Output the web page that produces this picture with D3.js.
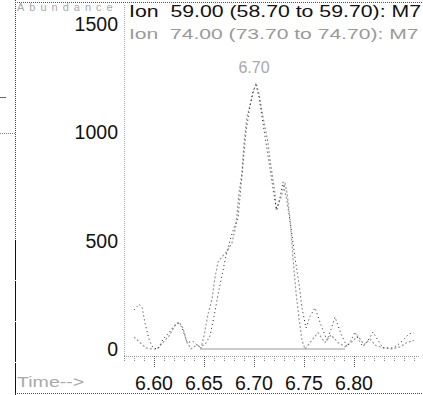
<!DOCTYPE html>
<html lang="en">
<head>
    <meta charset="UTF-8">
    <title>Ion chromatogram</title>
    <script src="https://d3js.org/d3.v7.min.js"></script>
    <style>
        body {
            margin: 0;
            background: #fff;
            font-family: "Liberation Sans", Arial, sans-serif;
        }
        svg {
            display: block;
        }
        text {
            white-space: pre;
        }
        .tick-label {
            font-size: 19.5px;
            fill: #111;
        }
        .faint {
            fill: #a9a9a9;
        }
    </style>
</head>
<body>
    <svg id="chart"></svg>

    <script>
        // Data (time in min, abundance)
        const ion59 = [
            [6.580, 180], [6.585, 205], [6.588, 195], [6.591, 120], [6.595, 45], [6.599, 5],
            [6.604, 0], [6.609, 45], [6.614, 70], [6.619, 100], [6.624, 120], [6.628, 100],
            [6.633, 30], [6.639, 35], [6.645, 10], [6.651, 20], [6.656, 60], [6.660, 150],
            [6.664, 250], [6.668, 340], [6.672, 430], [6.676, 500], [6.680, 560], [6.684, 600],
            [6.688, 800], [6.692, 1000], [6.696, 1120], [6.699, 1190], [6.702, 1215], [6.705, 1160],
            [6.709, 1040], [6.713, 920], [6.717, 800], [6.721, 680], [6.723, 640], [6.726, 700],
            [6.729, 770], [6.733, 680], [6.737, 560], [6.741, 420], [6.745, 300], [6.748, 190],
            [6.752, 97], [6.756, 150], [6.761, 190], [6.767, 110], [6.773, 40], [6.777, 90],
            [6.781, 147], [6.787, 70], [6.793, 10], [6.797, 40], [6.801, 78], [6.805, 40],
            [6.809, 10], [6.814, 40], [6.819, 78], [6.824, 40], [6.829, 5], [6.839, 5],
            [6.844, 20], [6.849, 40], [6.855, 70], [6.860, 74]
        ];

        const ion74 = [
            [6.580, 55], [6.586, 30], [6.592, 5], [6.598, 0], [6.603, 0], [6.609, 30],
            [6.615, 60], [6.621, 110], [6.625, 125], [6.629, 95], [6.633, 30], [6.637, 0],
            [6.643, 20], [6.647, 5], [6.650, 60], [6.654, 160], [6.658, 230], [6.661, 330],
            [6.664, 400], [6.669, 430], [6.673, 450], [6.678, 490], [6.682, 570], [6.685, 720],
            [6.688, 810], [6.690, 950], [6.693, 1070], [6.698, 1160], [6.702, 1226], [6.705, 1175],
            [6.709, 1070], [6.714, 950], [6.716, 870], [6.719, 780], [6.721, 720], [6.722, 640],
            [6.727, 700], [6.731, 765], [6.733, 720], [6.736, 600], [6.739, 420], [6.742, 260],
            [6.745, 140], [6.748, 40], [6.751, 0], [6.756, 30], [6.764, 75], [6.771, 30],
            [6.777, 65], [6.784, 30], [6.791, 10], [6.797, 30], [6.804, 60], [6.810, 20],
            [6.816, 45], [6.822, 15], [6.830, 5], [6.838, 0], [6.846, 10], [6.853, 30],
            [6.860, 40]
        ];

        // integration baseline under the peak
        const baseline = [[6.646, 0], [6.791, 0]];

        const xTicks = [6.60, 6.65, 6.70, 6.75, 6.80];
        const yTicks = [0, 500, 1000, 1500];
        const legend = [
            { text: "Ion  59.00 (58.70 to 59.70): M7", color: "#111" },
            { text: "Ion  74.00 (73.70 to 74.70): M7", color: "#9a9a9a" }
        ];
        const peakTime = 6.70;
        const peakLabel = "6.70";

        const W = 423, H = 395;
        const axisX = 124, zeroY = 349, axisY = 356;

        const svg = d3.select("#chart")
                      .attr("width", W)
                      .attr("height", H);

        // Scales
        const x = d3.scaleLinear().domain([6.570, 6.866]).range([axisX, 420]);
        const y = d3.scaleLinear().domain([0, 1500]).range([zeroY, 23.5]);

        // Frame (scan edges)
        svg.append("line").attr("x1", 15.5).attr("x2", 15.5).attr("y1", 0).attr("y2", 240)
           .attr("stroke", "#444").attr("stroke-dasharray", "1,1");
        svg.append("line").attr("x1", 15.5).attr("x2", 15.5).attr("y1", 240).attr("y2", H)
           .attr("stroke", "#111").attr("stroke-dasharray", "40,1");
        svg.append("line").attr("x1", 15).attr("x2", W).attr("y1", 2.5).attr("y2", 2.5)
           .attr("stroke", "#555").attr("stroke-dasharray", "1,1");
        svg.append("line").attr("x1", 15).attr("x2", W).attr("y1", 393.5).attr("y2", 393.5)
           .attr("stroke", "#555").attr("stroke-dasharray", "1,1");
        svg.append("line").attr("x1", 0).attr("x2", 15).attr("y1", 133.5).attr("y2", 133.5)
           .attr("stroke", "#888").attr("stroke-dasharray", "1,1");
        svg.append("line").attr("x1", 0).attr("x2", 6).attr("y1", 97.5).attr("y2", 97.5)
           .attr("stroke", "#666");

        // Y axis: dotted line
        svg.append("line").attr("x1", axisX + 0.5).attr("x2", axisX + 0.5)
           .attr("y1", 5).attr("y2", axisY)
           .attr("stroke", "#aaa").attr("stroke-dasharray", "1,1");

        svg.selectAll(".ylab")
           .data(yTicks)
           .enter()
           .append("text")
           .attr("class", "tick-label")
           .attr("x", 118)
           .attr("y", d => y(d) + 7)
           .attr("text-anchor", "end")
           .text(d => d);

        // X axis: dotted line, minor and major ticks
        svg.append("line").attr("x1", axisX).attr("x2", 420)
           .attr("y1", axisY + 0.5).attr("y2", axisY + 0.5)
           .attr("stroke", "#999").attr("stroke-dasharray", "1,1");

        const minor = d3.range(6.57, 6.866, 0.01);
        svg.selectAll(".minor")
           .data(minor)
           .enter()
           .append("line")
           .attr("x1", d => Math.round(x(d)) + 0.5)
           .attr("x2", d => Math.round(x(d)) + 0.5)
           .attr("y1", axisY).attr("y2", axisY + 5)
           .attr("stroke", "#888").attr("stroke-dasharray", "1,1");

        svg.selectAll(".major")
           .data(xTicks)
           .enter()
           .append("line")
           .attr("x1", d => Math.round(x(d)) + 0.5)
           .attr("x2", d => Math.round(x(d)) + 0.5)
           .attr("y1", axisY).attr("y2", axisY + 12)
           .attr("stroke", "#555").attr("stroke-dasharray", "1,1");

        svg.selectAll(".xlab")
           .data(xTicks)
           .enter()
           .append("text")
           .attr("class", "tick-label")
           .attr("x", d => x(d))
           .attr("y", 390)
           .attr("text-anchor", "middle")
           .text(d => d.toFixed(2));

        // Axis titles (wide, faint scan lettering)
        svg.append("text").attr("class", "faint")
           .attr("x", 17).attr("y", 10.5)
           .attr("font-size", 11)
           .attr("letter-spacing", 5)
           .text("Abundance");
        svg.append("text").attr("class", "faint")
           .attr("transform", "translate(17,387) scale(1.4,1)")
           .attr("font-size", 14)
           .text("Time-->");

        // Traces
        const line = d3.line().x(d => x(d[0])).y(d => y(d[1]));

        svg.append("path").datum(baseline)
           .attr("d", line).attr("fill", "none")
           .attr("stroke", "#999").attr("stroke-width", 1.2);

        svg.append("path").datum(ion74)
           .attr("d", line).attr("fill", "none")
           .attr("stroke", "#999").attr("stroke-width", 1.2)
           .attr("stroke-dasharray", "2,2");

        svg.append("path").datum(ion59)
           .attr("d", line).attr("fill", "none")
           .attr("stroke", "#222").attr("stroke-width", 1)
           .attr("stroke-dasharray", "1,3");

        // Peak label
        svg.append("text")
           .attr("x", x(peakTime))
           .attr("y", 73)
           .attr("text-anchor", "middle")
           .attr("font-size", 16)
           .attr("fill", "#a8a8a8")
           .text(peakLabel);

        // Legend
        svg.selectAll(".legend")
           .data(legend)
           .enter()
           .append("text")
           .attr("transform", (d, i) => `translate(129,${17 + i * 22}) scale(${i === 0 ? 1.33 : 1.36},1)`)
           .attr("font-size", (d, i) => i === 0 ? 16 : 15.5)
           .attr("fill", d => d.color)
           .text(d => d.text);
    </script>
</body>
</html>
